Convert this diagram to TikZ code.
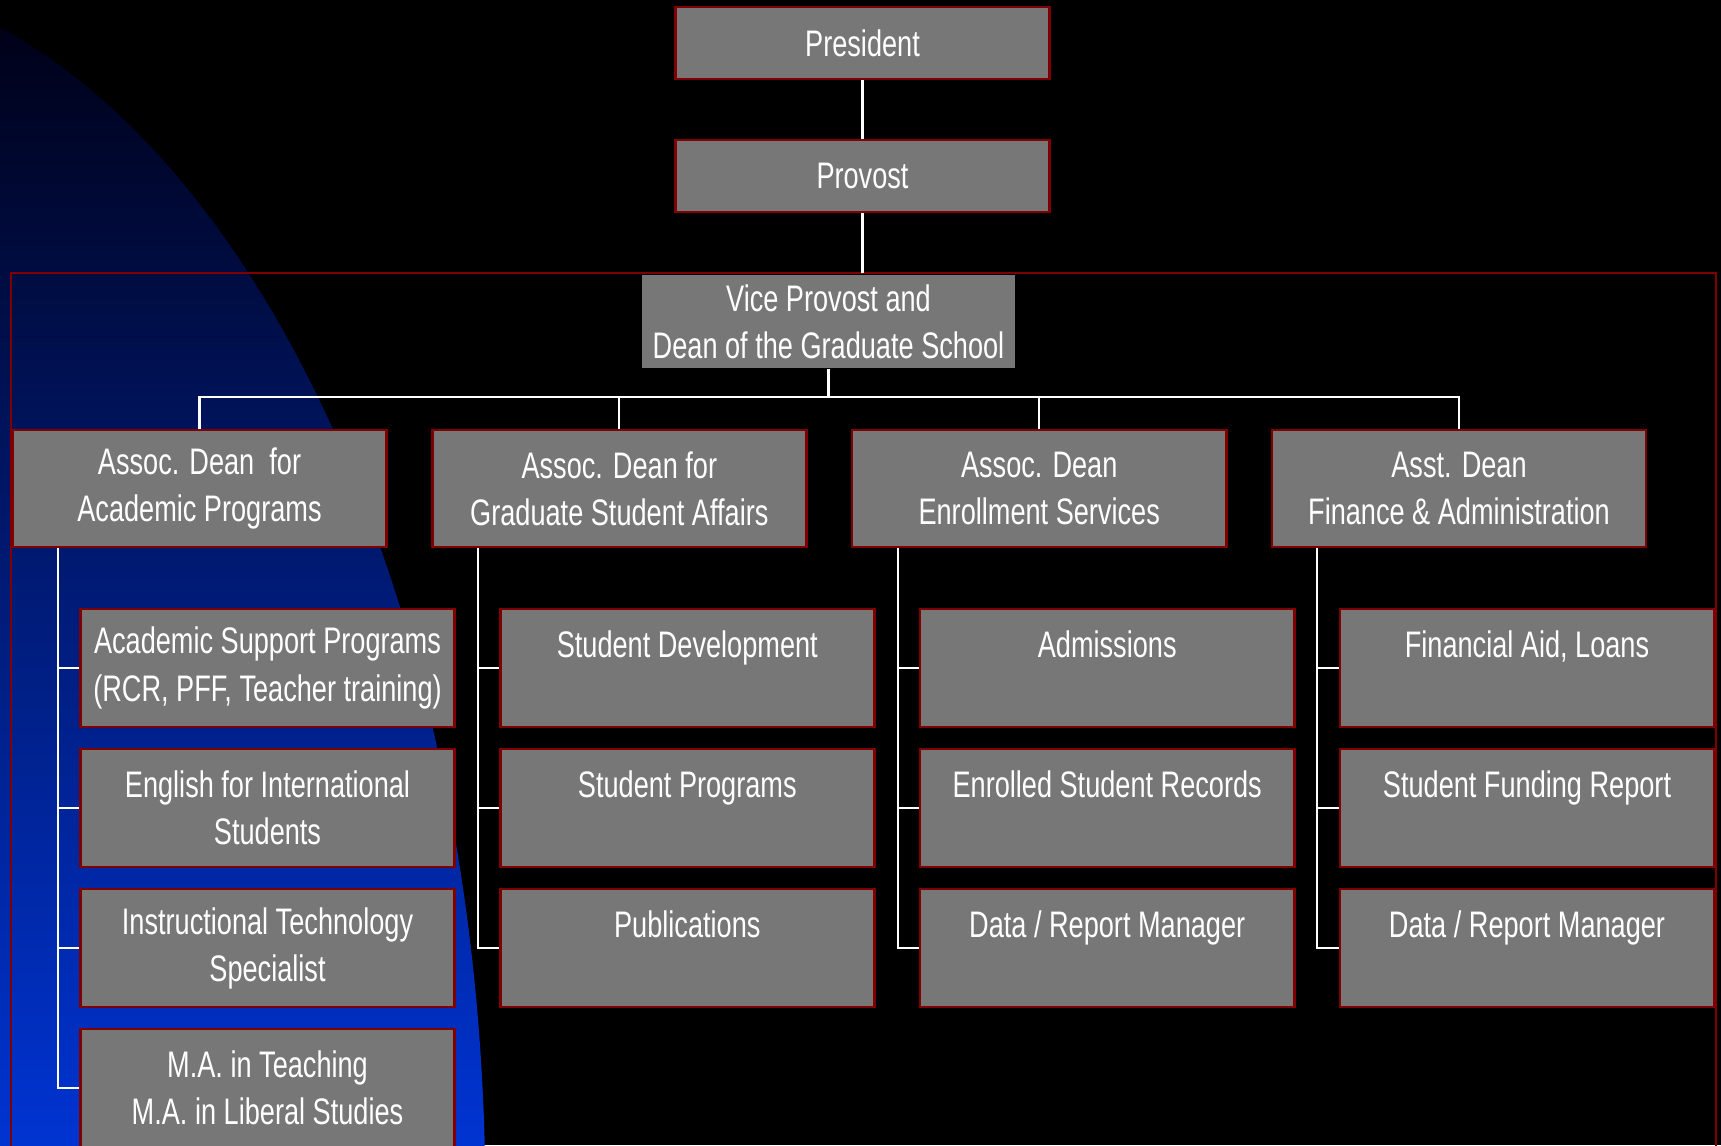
\documentclass[tikz,border=0pt]{standalone}
\usepackage{fontspec}
\setmainfont[FakeStretch=0.735]{Liberation Sans}
\definecolor{boxgray}{HTML}{777777}
\definecolor{framered}{HTML}{800000}
\definecolor{slidetop}{RGB}{0,0,20}
\definecolor{slidemid}{RGB}{0,34,140}
\definecolor{slideblue}{RGB}{0,52,210}
\begin{document}
\begin{tikzpicture}[x=0.01cm, y=-0.01cm,
    box/.style={draw=framered, line width=0.75pt, fill=boxgray, text=white, align=center,
        inner sep=0pt, minimum width=3.74cm, minimum height=1.18cm,
        font=\fontsize{10.5}{13.4}\selectfont},
    wire/.style={draw=white, line width=0.6pt}]
\useasboundingbox (0,0) rectangle (1721,1145);
\fill[black] (0,0) rectangle (1721,1145);
% blue backdrop
\begin{scope}
    \clip (-200,1200) ellipse [x radius=6.85cm, y radius=12.25cm];
    \shade[top color=slidetop, middle color=slidemid, bottom color=slideblue] (0,0) rectangle (700,1145);
\end{scope}
\draw[framered, line width=0.75pt] (11,273) rectangle (1716,1170);
\coordinate (ftop) at (862.5,273);
\coordinate (bus) at (828.5,397);

\node[box, minimum height=0.72cm] (pres) at (862.5,43) {President};
\node[box, minimum height=0.72cm] (prov) at (862.5,176) {Provost};
\node[box, draw=none, minimum width=3.73cm, minimum height=0.93cm] (vp) at (828.5,321.5) {Vice Provost and\\Dean of the Graduate School};

\node[box, minimum height=1.17cm] (acad) at (199.5,488.5) {Assoc. Dean~ for\\Academic Programs};
\node[box, minimum height=1.17cm] (stud) at (619.3,488.5) {Assoc. Dean for\\Graduate Student Affairs};
\node[box, minimum height=1.17cm] (enrl) at (1039.2,488.5) {Assoc. Dean\\Enrollment Services};
\node[box, minimum height=1.17cm] (fin) at (1459,488.5) {Asst. Dean\\Finance \& Administration};

\node[box] (a1) at (267.5,668) {Academic Support Programs\\(RCR, PFF, Teacher training)};
\node[box] (a2) at (267.5,808) {English for International\\Students};
\node[box] (a3) at (267.5,948) {Instructional Technology\\Specialist};
\node[box] (a4) at (267.5,1088) {M.A. in Teaching\\M.A. in Liberal Studies};
\node[box] (s1) at (687.3,668) {Student Development\\\mbox{}};
\node[box] (s2) at (687.3,808) {Student Programs\\\mbox{}};
\node[box] (s3) at (687.3,948) {Publications\\\mbox{}};
\node[box] (e1) at (1107.2,668) {Admissions\\\mbox{}};
\node[box] (e2) at (1107.2,808) {Enrolled Student Records\\\mbox{}};
\node[box] (e3) at (1107.2,948) {Data / Report Manager\\\mbox{}};
\node[box] (f1) at (1527,668) {Financial Aid, Loans\\\mbox{}};
\node[box] (f2) at (1527,808) {Student Funding Report\\\mbox{}};
\node[box] (f3) at (1527,948) {Data / Report Manager\\\mbox{}};

\draw[wire] (pres) -- (prov);
\draw[wire] (prov) -- (ftop);
\draw[wire] (vp) -- (bus);
\draw[wire] (acad.north) |- (fin.north |- bus) -- (fin.north);
\draw[wire] (stud.north) -- (stud.north |- bus);
\draw[wire] (enrl.north) -- (enrl.north |- bus);
\foreach \p/\kids in {acad/{a1,a2,a3,a4}, stud/{s1,s2,s3}, enrl/{e1,e2,e3}, fin/{f1,f2,f3}}
    \foreach \k in \kids
        \draw[wire] ([xshift=-1.415cm]\p.south) |- (\k.west);
\end{tikzpicture}
\end{document}
